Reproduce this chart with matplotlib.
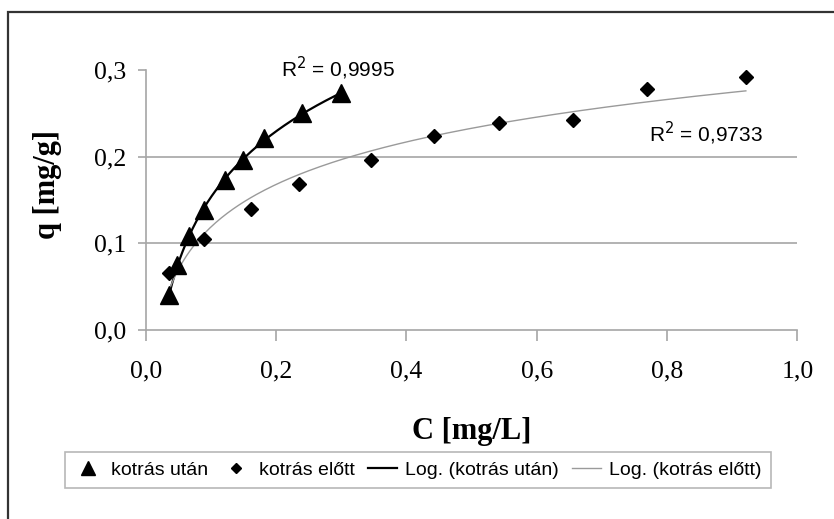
import matplotlib

matplotlib.use("Agg")
import matplotlib.pyplot as plt
import numpy as np
from matplotlib.patches import Rectangle

# C [mg/L] and q [mg/g]
c_utan = [0.036, 0.047, 0.066, 0.089, 0.121, 0.149, 0.181, 0.239, 0.300]
q_utan = [0.040, 0.075, 0.108, 0.138, 0.173, 0.196, 0.221, 0.250, 0.273]
c_elott = [0.036, 0.089, 0.161, 0.235, 0.345, 0.442, 0.542, 0.656, 0.770, 0.921]
q_elott = [0.066, 0.105, 0.140, 0.168, 0.196, 0.224, 0.239, 0.242, 0.278, 0.292]

r2_utan = "0,9995"
r2_elott = "0,9733"

x_ticks = [0.0, 0.2, 0.4, 0.6, 0.8, 1.0]
y_ticks = [0.0, 0.1, 0.2, 0.3]

SERIF = "Liberation Serif"
SANS = "Liberation Sans"
GREY = "#a6a6a6"


def log_fit(x, y):
    a, b = np.polyfit(np.log(x), y, 1)
    xs = np.linspace(min(x), max(x), 200)
    return xs, a * np.log(xs) + b


def fmt(v):
    return f"{v:.1f}".replace(".", ",")


fig = plt.figure(figsize=(8.34, 5.19), dpi=100)
ax = fig.add_axes([0.175, 0.3642, 0.7810, 0.5009])

for y in y_ticks[1:-1]:
    ax.axhline(y, color=GREY, lw=1.2, zorder=0)

xs, ys = log_fit(c_utan, q_utan)
ax.plot(xs, ys, color="black", lw=1.6, zorder=2, label="Log. (kotrás után)")
xs, ys = log_fit(c_elott, q_elott)
ax.plot(xs, ys, color="#9a9a9a", lw=1.0, zorder=2, label="Log. (kotrás előtt)")

ax.plot(c_utan, q_utan, ls="none", marker="^", ms=13, color="black",
        zorder=3, label="kotrás után")
ax.plot(c_elott, q_elott, ls="none", marker="D", ms=7.2, color="black",
        zorder=3, label="kotrás előtt")

ax.set_xlim(0, 1.0)
ax.set_ylim(0, 0.3)
ax.set_xticks(x_ticks)
ax.set_yticks(y_ticks)
ax.set_xticklabels([fmt(v) for v in x_ticks], family=SERIF, fontsize=18.5)
ax.set_yticklabels([fmt(v) for v in y_ticks], family=SERIF, fontsize=18.5)
ax.tick_params(axis="y", direction="out", length=6, width=1.2, color=GREY, pad=8)
ax.tick_params(axis="x", direction="out", length=8, width=1.2, color=GREY, pad=14)

for side in ["top", "right"]:
    ax.spines[side].set_visible(False)
for side in ["left", "bottom"]:
    ax.spines[side].set_color(GREY)
    ax.spines[side].set_linewidth(1.2)

ax.text(0.207, 0.302, f"R$^2$ = {r2_utan}", family=SANS, fontsize=15,
        va="center", ha="left", clip_on=False)
ax.text(0.772, 0.227, f"R$^2$ = {r2_elott}", family=SANS, fontsize=15,
        va="center", ha="left")

fig.text(0.565, 0.168, "C [mg/L]", family=SERIF, fontsize=22,
         fontweight="bold", ha="center", va="center")
fig.text(0.057, 0.645, "q [mg/g]", family=SERIF, fontsize=22,
         fontweight="bold", ha="center", va="center", rotation=90)

handles, labels = ax.get_legend_handles_labels()
order = [2, 3, 0, 1]
leg = fig.legend([handles[i] for i in order], [labels[i] for i in order],
                 loc="center", bbox_to_anchor=(0.501, 0.0944), ncol=4,
                 prop={"family": SANS, "size": 14}, frameon=True,
                 fancybox=False, handlelength=1.5, handletextpad=0.4,
                 columnspacing=0.7, borderpad=0.45, markerscale=0.75)
leg.get_frame().set_edgecolor(GREY)
leg.get_frame().set_linewidth(1.2)

fig.add_artist(Rectangle((0.01, -0.1), 1.5, 0.9775 + 0.1,
                         transform=fig.transFigure, fill=False,
                         edgecolor="#333333", lw=1.6))

fig.savefig("out.png", dpi=100)
